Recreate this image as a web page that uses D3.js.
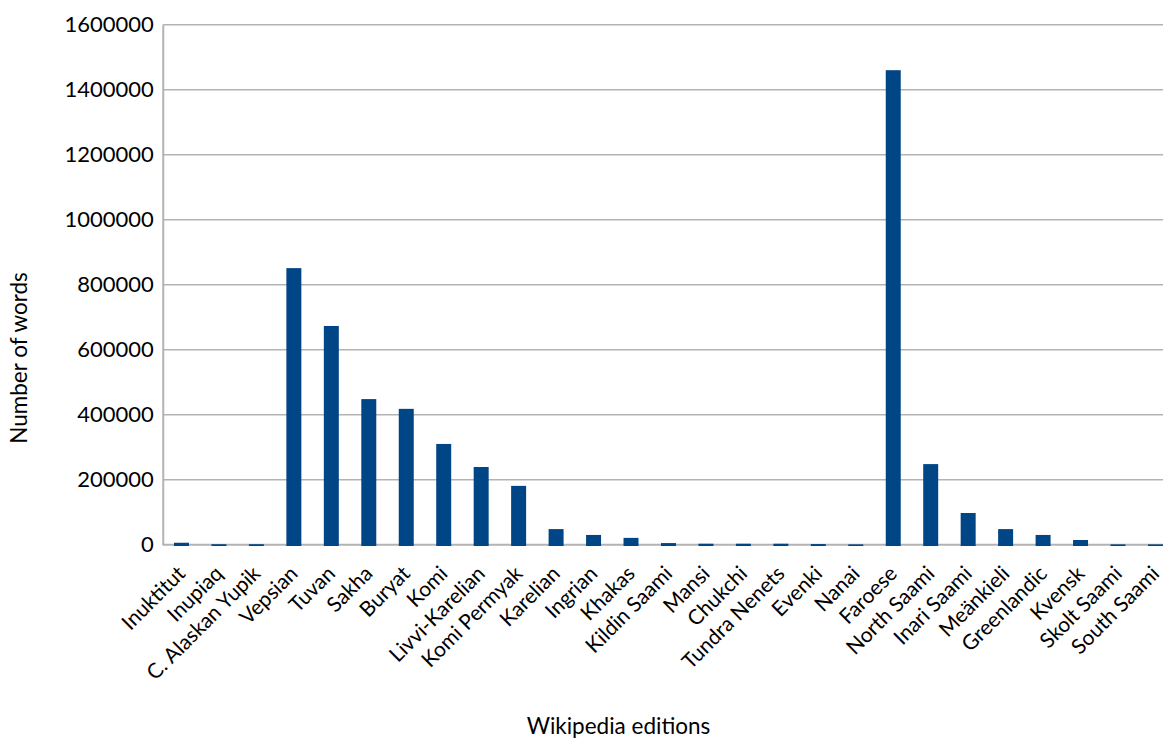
<!DOCTYPE html>
<html><head><meta charset="utf-8">
<script src="https://cdn.jsdelivr.net/npm/d3@7"></script>
<style>body{margin:0;background:#fff;overflow:hidden}svg{display:block}text{font-family:Lato,"Noto Sans",sans-serif;fill:#000}</style>
</head><body>
<script>
const categories = ["Inuktitut","Inupiaq","C. Alaskan Yupik","Vepsian","Tuvan","Sakha","Buryat","Komi","Livvi-Karelian","Komi Permyak","Karelian","Ingrian","Khakas","Kildin Saami","Mansi","Chukchi","Tundra Nenets","Evenki","Nanai","Faroese","North Saami","Inari Saami","Meänkieli","Greenlandic","Kvensk","Skolt Saami","South Saami"];
const words = [6000,1500,1500,851000,673000,448000,418000,310000,239000,181000,48000,30000,21000,5000,3000,3000,3000,2000,1000,1460000,248000,97500,48000,30000,14500,1000,1000];
const yTicks = [0,200000,400000,600000,800000,1000000,1200000,1400000,1600000];
const yTitle = "Number of words";
const xTitle = "Wikipedia editions";

const W = 1163, H = 740;
const svg = d3.select("body").append("svg").attr("width", W).attr("height", H);
const pLeft = 162.75, pRight = 1174.2, pTop = 24.7, pBottom = 544.7;
const x = d3.scaleBand().domain(categories).range([pLeft, pRight]).paddingInner(0.6).paddingOuter(0.3);
const y = d3.scaleLinear().domain([0, 1600000]).range([pBottom, pTop]);

// gridlines
svg.append("g").selectAll("line").data(yTicks.filter(d => d > 0)).join("line")
  .attr("x1", pLeft).attr("x2", W).attr("y1", d => y(d)).attr("y2", d => y(d))
  .attr("stroke", "#b3b3b3").attr("stroke-width", 1.4);

// y axis
const ya = svg.append("g").attr("transform", `translate(${pLeft},0)`)
  .call(d3.axisLeft(y).tickValues(yTicks).tickFormat(d3.format("d")).tickSize(0).tickPadding(9));
ya.select(".domain").attr("stroke", "#b3b3b3").attr("stroke-width", 2);
ya.selectAll("text").style("font-size", "22px").style("font-family", "Lato").attr("fill", "#000");

// x axis
const xa = svg.append("g").attr("transform", `translate(0,${pBottom})`)
  .call(d3.axisBottom(x).tickSize(0).tickPadding(0));
xa.select(".domain").attr("stroke", "#b3b3b3").attr("stroke-width", 2).attr("d", `M${pLeft},0H${W}`);
xa.selectAll("text").style("font-size", "21px").style("font-family", "Lato").attr("fill", "#000")
  .attr("text-anchor", "end").attr("dy", "0.35em")
  .attr("transform", "translate(0,25) rotate(-45)");

// bars (drawn over the axis line)
svg.append("g").selectAll("rect").data(categories).join("rect")
  .attr("x", d => x(d)).attr("width", x.bandwidth())
  .attr("y", (d, i) => y(words[i])).attr("height", (d, i) => y(0) - y(words[i]) + 1.3)
  .attr("fill", "#004586");

// titles
svg.append("text").attr("transform", "translate(27,358) rotate(-90)").attr("text-anchor", "middle")
  .style("font-size", "22.5px").text(yTitle);
svg.append("text").attr("x", 618.5).attr("y", 734).attr("text-anchor", "middle")
  .style("font-size", "22.5px").text(xTitle);
</script>
</body></html>
